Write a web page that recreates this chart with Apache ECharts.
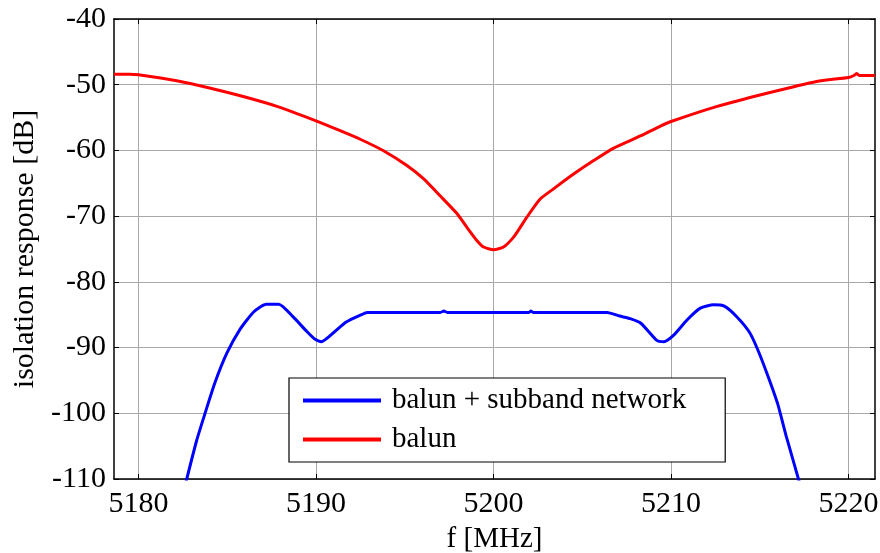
<!DOCTYPE html>
<html>
<head>
<meta charset="utf-8">
<script src="https://cdn.jsdelivr.net/npm/echarts@6/dist/echarts.min.js"></script>
<style>
  html, body { margin: 0; padding: 0; background: #fff; }
  #chart { width: 880px; height: 553px; }
</style>
</head>
<body>
<div id="chart"></div>
<script>
// Frequency axis range and tick positions (MHz)
const fMin = 5178.62;
const fMax = 5221.49;
const freqTicks = [5180, 5190, 5200, 5210, 5220];

// Balun alone: isolation vs frequency
const balunFreq = [5178.62, 5179.5, 5180.0, 5182.15, 5184.0, 5185.9, 5187.8, 5190.0, 5191.36, 5192.49,
  5193.8, 5195.12, 5196.05, 5196.99, 5197.94, 5198.5, 5199.06, 5199.44, 5200.0, 5200.56, 5201.13,
  5201.88, 5202.63, 5203.38, 5204.51, 5205.64, 5206.77, 5208.27, 5209.4, 5210.0, 5212.6, 5215.4,
  5218.2, 5220.0, 5220.3, 5220.45, 5220.6, 5221.49];
const balunDb = [-48.4, -48.4, -48.5, -49.4, -50.5, -51.8, -53.3, -55.5, -57.0, -58.3,
  -60.05, -62.3, -64.3, -66.9, -69.6, -71.7, -73.7, -74.7, -75.1, -74.7, -73.2,
  -70.15, -67.4, -65.85, -63.6, -61.55, -59.65, -57.8, -56.3, -55.6, -53.3, -51.3,
  -49.5, -48.9, -48.6, -48.3, -48.6, -48.6];

// Balun with subband network
const subFreq = [5182.55, 5182.70, 5183.28, 5183.75, 5184.3, 5184.97, 5185.7, 5186.5, 5187.2, 5187.9,
  5188.7, 5189.5, 5189.95, 5190.3, 5191.0, 5191.7, 5192.5, 5192.9, 5197.0, 5197.2, 5197.4,
  5202.0, 5202.1, 5202.25, 5206.4, 5207.1, 5207.7, 5208.3, 5209.2, 5209.6, 5210.15, 5210.9,
  5211.65, 5212.4, 5213.0, 5213.7, 5214.4, 5214.85, 5215.4, 5216.0, 5216.5, 5217.2, 5217.35];
const subDb = [-112.0, -110.2, -104.1, -100.0, -95.4, -90.9, -87.3, -84.55, -83.4, -83.4,
  -85.3, -87.6, -88.75, -89.1, -87.7, -86.1, -85.05, -84.65, -84.65, -84.45, -84.65,
  -84.65, -84.45, -84.65, -84.65, -85.2, -85.6, -86.3, -88.9, -89.1, -88.1, -85.8,
  -84.0, -83.5, -83.7, -85.3, -87.6, -90.1, -93.9, -98.5, -103.6, -110.2, -112.0];

// Value axis ticks (dB)
const dbMin = -110;
const dbMax = -40;
const dbStep = 10;

const zip = (xs, ys) => xs.map((x, i) => [x, ys[i]]);

const serif = "'Liberation Serif', 'Times New Roman', serif";
const axisLineStyle = { color: '#000', width: 1.5 };
const tickStyle = { color: '#000', width: 1 };
const gridLine = { show: true, lineStyle: { color: '#a8a8a8', width: 1, type: 'solid' } };

const chart = echarts.init(document.getElementById('chart'), null, { renderer: 'canvas' });
chart.setOption({
  animation: false,
  backgroundColor: '#fff',
  grid: { left: 114, right: 5, top: 19, bottom: 74, containLabel: false, outerBoundsMode: 'none' },
  xAxis: [
    {
      type: 'value', min: fMin, max: fMax, position: 'bottom',
      name: 'f [MHz]', nameLocation: 'middle', nameGap: 46,
      nameTextStyle: { fontFamily: serif, fontSize: 29, color: '#000' },
      axisLine: { show: true, onZero: false, lineStyle: axisLineStyle },
      axisTick: { show: true, inside: true, length: 5, customValues: freqTicks, lineStyle: tickStyle },
      axisLabel: {
        customValues: freqTicks, fontFamily: serif, fontSize: 30, color: '#000', margin: 10,
        formatter: v => String(v)
      },
      splitLine: gridLine
    },
    {
      type: 'value', min: fMin, max: fMax, position: 'top',
      axisLine: { show: true, onZero: false, lineStyle: axisLineStyle },
      axisTick: { show: true, inside: true, length: 5, customValues: freqTicks, lineStyle: tickStyle },
      axisLabel: { show: false },
      splitLine: { show: false }
    }
  ],
  yAxis: [
    {
      type: 'value', min: dbMin, max: dbMax, interval: dbStep, position: 'left',
      name: 'isolation response [dB]', nameLocation: 'middle', nameGap: 72, nameRotate: 90,
      nameTextStyle: { fontFamily: serif, fontSize: 30, color: '#000' },
      axisLine: { show: true, onZero: false, lineStyle: axisLineStyle },
      axisTick: { show: true, inside: true, length: 5, lineStyle: tickStyle },
      axisLabel: { fontFamily: serif, fontSize: 30, color: '#000', margin: 8 },
      splitLine: gridLine
    },
    {
      type: 'value', min: dbMin, max: dbMax, interval: dbStep, position: 'right',
      axisLine: { show: true, onZero: false, lineStyle: axisLineStyle },
      axisTick: { show: true, inside: true, length: 5, lineStyle: tickStyle },
      axisLabel: { show: false },
      splitLine: { show: false }
    }
  ],
  legend: {
    orient: 'vertical',
    left: 289, top: 378,
    padding: [8, 39, 8, 14],
    itemGap: 10,
    itemWidth: 78, itemHeight: 4,
    icon: 'rect',
    backgroundColor: '#fff',
    borderColor: '#000', borderWidth: 1.2, borderRadius: 0,
    textStyle: { fontFamily: serif, fontSize: 29, color: '#000', lineHeight: 28, padding: [0, 0, 0, 6] },
    data: ['balun + subband network', 'balun']
  },
  series: [
    {
      name: 'balun + subband network', type: 'line', xAxisIndex: 0, yAxisIndex: 0,
      data: zip(subFreq, subDb), showSymbol: false, symbol: 'none', clip: true, smooth: 0.2,
      lineStyle: { color: '#0000ff', width: 3 }, itemStyle: { color: '#0000ff' }, z: 3
    },
    {
      name: 'balun', type: 'line', xAxisIndex: 0, yAxisIndex: 0,
      data: zip(balunFreq, balunDb), showSymbol: false, symbol: 'none', clip: true, smooth: 0.2,
      lineStyle: { color: '#ff0000', width: 3 }, itemStyle: { color: '#ff0000' }, z: 3
    }
  ]
});
</script>
</body>
</html>
